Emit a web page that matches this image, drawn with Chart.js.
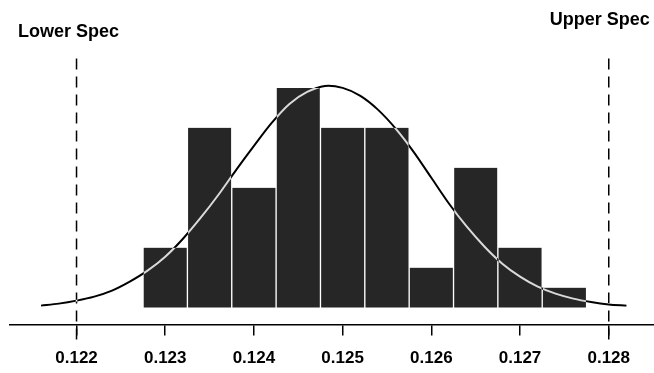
<!DOCTYPE html>
<html>
<head>
<meta charset="utf-8">
<script src="https://cdn.jsdelivr.net/npm/chart.js@4/dist/chart.umd.min.js"></script>
<style>
    html, body { margin: 0; padding: 0; background: #fff; }
    #wrap { width: 654px; height: 373px; position: relative; }
</style>
</head>
<body>
<div id="wrap"><canvas id="histChart"></canvas></div>
<script>
// bin centres (width 0.0005) and counts
const BIN_CENTERS = [0.1230, 0.1235, 0.1240, 0.1245, 0.1250, 0.1255, 0.1260, 0.1265, 0.1270, 0.1275];
const COUNTS = [3, 9, 6, 11, 9, 9, 2, 7, 3, 1];

// fitted normal curve
const CURVE_X = [0.1216, 0.1218, 0.1220, 0.1222, 0.1224, 0.1226, 0.1228, 0.1230, 0.1232, 0.1234,
                 0.1236, 0.1238, 0.1240, 0.1242, 0.1244, 0.1246, 0.1248, 0.1250, 0.1252, 0.1254,
                 0.1256, 0.1258, 0.1260, 0.1262, 0.1264, 0.1266, 0.1268, 0.1270, 0.1272, 0.1274,
                 0.1276, 0.1278, 0.1280, 0.1282];
const CURVE_Y = [0.1, 0.2, 0.35, 0.55, 0.85, 1.3, 1.85, 2.55, 3.45, 4.5,
                 5.65, 6.9, 8.1, 9.25, 10.2, 10.8, 11.1, 11.0, 10.6, 9.9,
                 8.95, 7.8, 6.5, 5.2, 4.05, 3.05, 2.2, 1.55, 1.05, 0.7,
                 0.45, 0.28, 0.16, 0.1];

const TICKS = [0.122, 0.123, 0.124, 0.125, 0.126, 0.127, 0.128];
const LOWER_SPEC = 0.122;
const UPPER_SPEC = 0.128;
const SPEC_LABELS = ['Lower Spec', 'Upper Spec'];

(function () {
    'use strict';

    const FONT = '"Liberation Sans", Arial, sans-serif';

    /** white page behind everything, so the curve can invert over the bars */
    const paperBackground = {
        id: 'paperBackground',
        beforeDraw(chart) {
            const ctx = chart.ctx;
            ctx.save();
            ctx.fillStyle = '#fff';
            ctx.fillRect(0, 0, chart.width, chart.height);
            ctx.restore();
        },
        beforeDatasetDraw(chart, args) {
            if (chart.data.datasets[args.index].id === 'curve') {
                chart.ctx.save();
                chart.ctx.globalCompositeOperation = 'difference';
            }
        },
        afterDatasetDraw(chart, args) {
            if (chart.data.datasets[args.index].id === 'curve') {
                chart.ctx.restore();
            }
        }
    };

    /** spec labels above the dashed lines */
    const specLabels = {
        id: 'specLabels',
        afterDraw(chart) {
            const ctx = chart.ctx;
            const x = chart.scales.x;
            ctx.save();
            ctx.fillStyle = '#000';
            ctx.font = 'bold 18px ' + FONT;
            ctx.textAlign = 'center';
            ctx.textBaseline = 'alphabetic';
            ctx.fillText(SPEC_LABELS[0], x.getPixelForValue(LOWER_SPEC) - 8, 37);
            ctx.fillText(SPEC_LABELS[1], x.getPixelForValue(UPPER_SPEC) - 9, 25);
            ctx.restore();
        }
    };

    const specLine = (value) => ({
        type: 'line',
        data: [{ x: value, y: -1.6 }, { x: value, y: 12.55 }],
        borderColor: '#000',
        borderWidth: 1.5,
        borderDash: [11, 7],
        pointRadius: 0,
        clip: false,
        order: 1
    });

    new Chart(document.getElementById('histChart'), {
        type: 'bar',
        data: {
            datasets: [
                {
                    id: 'curve',
                    type: 'line',
                    data: CURVE_X.map((x, i) => ({ x, y: CURVE_Y[i] })),
                    borderColor: '#fff',
                    borderWidth: 2,
                    pointRadius: 0,
                    tension: 0.3,
                    order: 0
                },
                specLine(LOWER_SPEC),
                specLine(UPPER_SPEC),
                {
                    data: BIN_CENTERS.map((x, i) => ({ x, y: COUNTS[i] })),
                    backgroundColor: '#262626',
                    borderColor: '#fff',
                    borderWidth: { left: 1, right: 1, top: 0, bottom: 0 },
                    borderSkipped: false,
                    barPercentage: 1,
                    categoryPercentage: 1,
                    order: 2
                }
            ]
        },
        options: {
            responsive: true,
            maintainAspectRatio: false,
            animation: false,
            layout: { padding: { left: 10, right: 0, top: 20, bottom: -9 } },
            plugins: {
                legend: { display: false },
                tooltip: { enabled: false }
            },
            scales: {
                x: {
                    type: 'linear',
                    min: 0.12125,
                    max: 0.12851,
                    offset: false,
                    afterBuildTicks: (axis) => {
                        axis.ticks = TICKS.map(v => ({ value: v }));
                    },
                    border: { display: true, color: '#000', width: 1.5 },
                    grid: {
                        offset: false,
                        drawOnChartArea: false,
                        drawTicks: true,
                        tickLength: 11,
                        tickColor: '#000',
                        lineWidth: 1.5
                    },
                    ticks: {
                        color: '#000',
                        padding: 13,
                        maxRotation: 0,
                        autoSkip: false,
                        font: { family: FONT, size: 17, weight: 'bold' },
                        callback: (v) => Number(v).toFixed(3)
                    }
                },
                y: {
                    display: false,
                    min: -0.85,
                    max: 14.4
                }
            }
        },
        plugins: [paperBackground, specLabels]
    });
})();
</script>
</body>
</html>
